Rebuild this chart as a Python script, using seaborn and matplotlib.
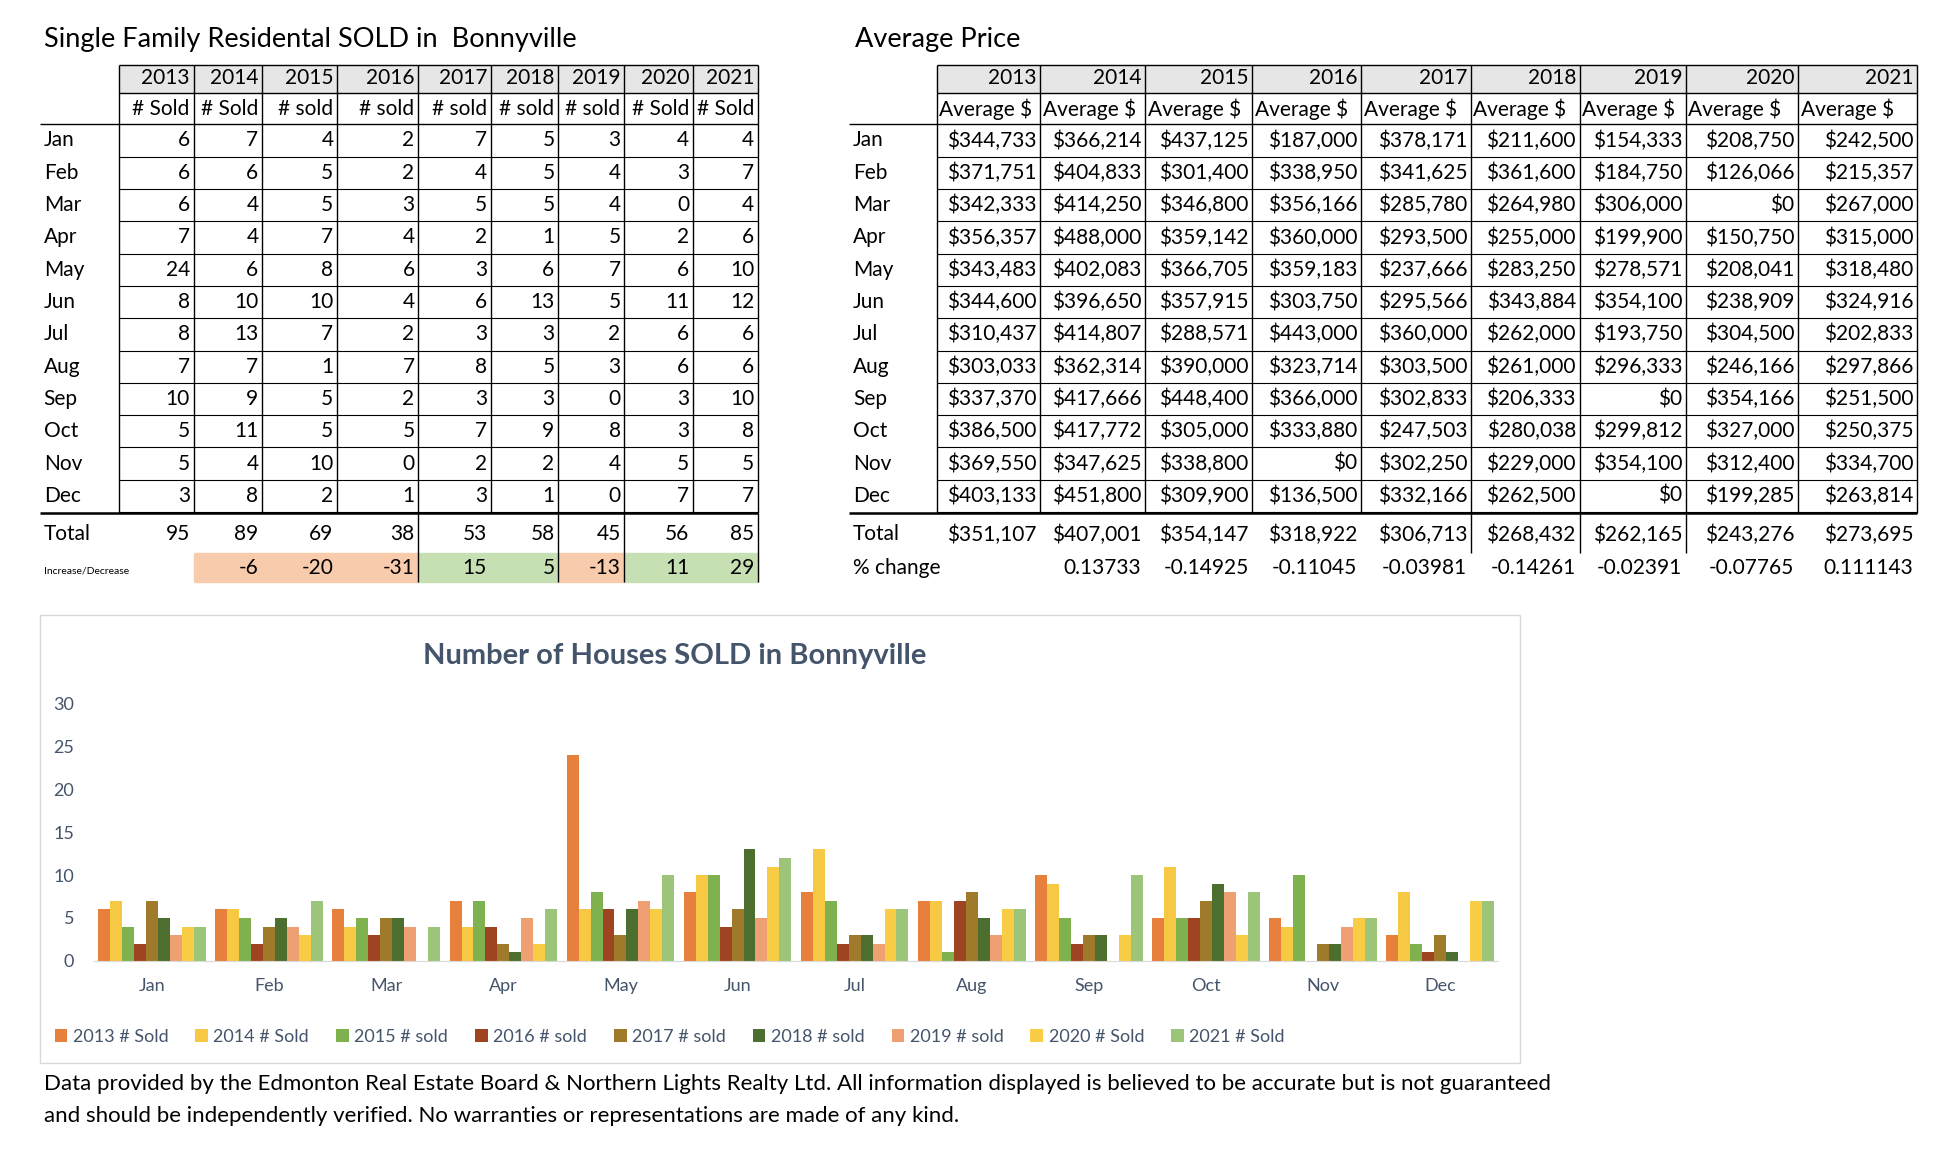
import seaborn as sns
import pandas as pd
import matplotlib.pyplot as plt
from matplotlib.patches import Rectangle

months = ["Jan", "Feb", "Mar", "Apr", "May", "Jun", "Jul", "Aug", "Sep", "Oct", "Nov", "Dec"]
years = ["2013", "2014", "2015", "2016", "2017", "2018", "2019", "2020", "2021"]
sold_hdr = ["# Sold", "# Sold", "# sold", "# sold", "# sold", "# sold", "# sold", "# Sold", "# Sold"]

sold_2013 = [6, 6, 6, 7, 24, 8, 8, 7, 10, 5, 5, 3]
sold_2014 = [7, 6, 4, 4, 6, 10, 13, 7, 9, 11, 4, 8]
sold_2015 = [4, 5, 5, 7, 8, 10, 7, 1, 5, 5, 10, 2]
sold_2016 = [2, 2, 3, 4, 6, 4, 2, 7, 2, 5, 0, 1]
sold_2017 = [7, 4, 5, 2, 3, 6, 3, 8, 3, 7, 2, 3]
sold_2018 = [5, 5, 5, 1, 6, 13, 3, 5, 3, 9, 2, 1]
sold_2019 = [3, 4, 4, 5, 7, 5, 2, 3, 0, 8, 4, 0]
sold_2020 = [4, 3, 0, 2, 6, 11, 6, 6, 3, 3, 5, 7]
sold_2021 = [4, 7, 4, 6, 10, 12, 6, 6, 10, 8, 5, 7]
sold = [sold_2013, sold_2014, sold_2015, sold_2016, sold_2017, sold_2018, sold_2019, sold_2020, sold_2021]
sold_totals = [95, 89, 69, 38, 53, 58, 45, 56, 85]
sold_change = ["", "-6", "-20", "-31", "15", "5", "-13", "11", "29"]

price_2013 = ["$344,733", "$371,751", "$342,333", "$356,357", "$343,483", "$344,600", "$310,437", "$303,033", "$337,370", "$386,500", "$369,550", "$403,133"]
price_2014 = ["$366,214", "$404,833", "$414,250", "$488,000", "$402,083", "$396,650", "$414,807", "$362,314", "$417,666", "$417,772", "$347,625", "$451,800"]
price_2015 = ["$437,125", "$301,400", "$346,800", "$359,142", "$366,705", "$357,915", "$288,571", "$390,000", "$448,400", "$305,000", "$338,800", "$309,900"]
price_2016 = ["$187,000", "$338,950", "$356,166", "$360,000", "$359,183", "$303,750", "$443,000", "$323,714", "$366,000", "$333,880", "$0", "$136,500"]
price_2017 = ["$378,171", "$341,625", "$285,780", "$293,500", "$237,666", "$295,566", "$360,000", "$303,500", "$302,833", "$247,503", "$302,250", "$332,166"]
price_2018 = ["$211,600", "$361,600", "$264,980", "$255,000", "$283,250", "$343,884", "$262,000", "$261,000", "$206,333", "$280,038", "$229,000", "$262,500"]
price_2019 = ["$154,333", "$184,750", "$306,000", "$199,900", "$278,571", "$354,100", "$193,750", "$296,333", "$0", "$299,812", "$354,100", "$0"]
price_2020 = ["$208,750", "$126,066", "$0", "$150,750", "$208,041", "$238,909", "$304,500", "$246,166", "$354,166", "$327,000", "$312,400", "$199,285"]
price_2021 = ["$242,500", "$215,357", "$267,000", "$315,000", "$318,480", "$324,916", "$202,833", "$297,866", "$251,500", "$250,375", "$334,700", "$263,814"]
prices = [price_2013, price_2014, price_2015, price_2016, price_2017, price_2018, price_2019, price_2020, price_2021]
price_totals = ["$351,107", "$407,001", "$354,147", "$318,922", "$306,713", "$268,432", "$262,165", "$243,276", "$273,695"]
price_change = ["", "0.13733", "-0.14925", "-0.11045", "-0.03981", "-0.14261", "-0.02391", "-0.07765", "0.111143"]

palette = ["#E8803D", "#F7C843", "#7FB24E", "#9E4421", "#9E7A2A", "#4C6E2E", "#EFA072", "#F8CC45", "#9CC57A"]

plt.rcParams['font.family'] = ['Lato', 'DejaVu Sans']
fig = plt.figure(figsize=(19.48, 11.56), dpi=100)
bg = fig.add_axes([0, 0, 1, 1])
bg.set_xlim(0, 1560)
bg.set_ylim(930, 0)
bg.axis("off")

FS = 15
row_y = [100 + 26 * i for i in range(13)]  # borders between month rows


def line(x0, x1, y0, y1, lw=1.0):
    bg.plot([x0, x1], [y0, y1], color="black", lw=lw, solid_capstyle="butt")


def draw_table(x_label, title_x, cols, hdr2, cells, totals, change, title, change_fill=None):
    x_left, x_right = cols[0], cols[-1]
    bg.text(title_x, 32, title, fontsize=19.5, va="center")
    for j, c in enumerate(cols[:-1]):
        bg.add_patch(Rectangle((c, 52), cols[j + 1] - c, 23, color="#E7E6E6", zorder=0))
        bg.text(cols[j + 1] - 3, 63, years[j], ha="right", va="center", fontsize=FS)
        avg = hdr2[j].startswith("Average")
        bg.text(c + 2 if avg else cols[j + 1] - 3, 88, hdr2[j],
                ha="left" if avg else "right", va="center", fontsize=FS)
    line(x_left, x_right, 52, 52)
    line(x_left, x_right, 75, 75)
    line(x_label - 3, x_right, 100, 100)
    for c in cols:
        line(c, c, 52, 413)
    for i, m in enumerate(months):
        y = row_y[i] + 13
        bg.text(x_label, y, m, va="center", fontsize=FS)
        for j in range(len(years)):
            bg.text(cols[j + 1] - 3, y, str(cells[j][i]), ha="right", va="center", fontsize=FS)
        line(x_left, x_right, row_y[i + 1], row_y[i + 1], lw=0.8)
    line(x_label - 3, x_right, 413, 413, lw=1.8)
    bg.text(x_label, 430, "Total", va="center", fontsize=FS)
    for j in range(len(years)):
        bg.text(cols[j + 1] - 3, 430, str(totals[j]), ha="right", va="center", fontsize=FS)
    if change_fill is not None:
        bg.text(x_label, 459, "Increase/Decrease", va="center", fontsize=7.5)
        for j in range(1, len(years)):
            bg.add_patch(Rectangle((cols[j], 445), cols[j + 1] - cols[j], 23,
                                   color=change_fill[j], zorder=0))
            bg.text(cols[j + 1] - 3, 457, change[j], ha="right", va="center", fontsize=FS)
        for c in [335, 447, 500, 607]:
            line(c, c, 413, 468)
    else:
        bg.text(x_label, 457, "% change", va="center", fontsize=FS)
        for j in range(1, len(years)):
            bg.text(cols[j + 1] - 3, 457, change[j], ha="right", va="center", fontsize=FS)
        for c in [1178, 1265, 1350]:
            line(c, c, 413, 445)


sal, grn = "#F8CBAD", "#C6E0B4"
draw_table(35, 35, [95, 155, 210, 270, 335, 393, 447, 500, 555, 607], sold_hdr, sold, sold_totals,
           sold_change, "Single Family Residental SOLD in  Bonnyville",
           change_fill=["", sal, sal, sal, grn, grn, sal, grn, grn])
draw_table(683, 685, [750, 833, 917, 1003, 1090, 1178, 1265, 1350, 1440, 1535], ["Average $"] * 9,
           prices, price_totals, price_change, "Average Price")

bg.add_patch(Rectangle((32, 495), 1185, 360, fill=False, edgecolor="#D9D9D9", lw=1))
bg.text(540, 528, "Number of Houses SOLD in Bonnyville", ha="center", va="center",
        fontsize=21, fontweight="bold", color="#44546A")

df = pd.DataFrame([{"Month": m, "Series": f"{y} {h}", "Sold": sold[j][i]}
                   for j, (y, h) in enumerate(zip(years, sold_hdr)) for i, m in enumerate(months)])

ax = fig.add_axes([75 / 1560, 1 - 773 / 930, 1125 / 1560, 207 / 930])
sns.barplot(data=df, x="Month", y="Sold", hue="Series", palette=palette, width=0.92,
            saturation=1, ax=ax, legend=True)
ax.set_ylim(0, 30)
ax.set_yticks(range(0, 31, 5))
ax.set_xlabel("")
ax.set_ylabel("")
for s in ["top", "right", "left"]:
    ax.spines[s].set_visible(False)
ax.spines["bottom"].set_color("#D9D9D9")
ax.tick_params(axis="both", length=0, labelsize=13, labelcolor="#44546A")
ax.tick_params(axis="x", pad=12)
ax.tick_params(axis="y", pad=14)
ax.patch.set_alpha(0)
ax.legend(loc="upper center", bbox_to_anchor=(0.41, -0.2), ncol=9, frameon=False,
          fontsize=13, handlelength=0.7, handleheight=0.7, handletextpad=0.3, columnspacing=1.5,
          labelcolor="#44546A")

bg.text(35, 872, "Data provided by the Edmonton Real Estate Board & Northern Lights Realty Ltd. All information displayed is believed to be accurate but is not guaranteed",
        va="center", fontsize=16)
bg.text(35, 898, "and should be independently verified. No warranties or representations are made of any kind.",
        va="center", fontsize=16)

fig.savefig("out.png", dpi=100)
